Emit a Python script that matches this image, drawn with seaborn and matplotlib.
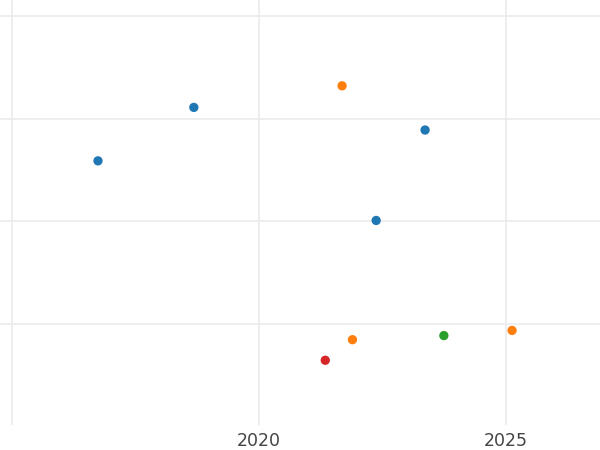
import numpy as np
import pandas as pd
import matplotlib
matplotlib.use("Agg")
import matplotlib.pyplot as plt
import seaborn as sns

# values (y has no labels, so units are arbitrary)
years = [2016.74, 2018.68, 2021.68, 2023.36, 2022.37, 2021.34, 2021.89, 2023.74, 2025.12]
values = [25.9, 31.1, 33.2, 28.9, 20.1, 6.5, 8.5, 8.9, 9.4]
groups = ["A", "A", "B", "A", "A", "D", "B", "C", "B"]
group_order = ["A", "B", "C", "D"]
group_colors = ["#1f77b4", "#ff7f0e", "#2ca02c", "#d62728"]
x_ticks = [2015, 2020, 2025]
y_ticks = [10, 20, 30, 40]

df = pd.DataFrame({"year": years, "value": values, "group": groups})

sns.set_style("white")
fig = plt.figure(figsize=(6, 4.5), dpi=100)
ax = fig.add_axes([0, 25 / 450, 1, 425 / 450])

sns.scatterplot(data=df, x="year", y="value", hue="group", hue_order=group_order,
                palette=group_colors, s=45, linewidth=0, legend=False, ax=ax, zorder=3)

ax.set_xlim(2014.757, 2026.9)
ax.set_ylim(0.2, 41.55)
ax.set_xticks(x_ticks)
ax.set_xticklabels(["", "2020", "2025"])
ax.set_yticks(y_ticks)
ax.set_yticklabels([])
ax.grid(True, color="#ebebeb", linewidth=1.2)
ax.tick_params(length=0, labelsize=12.5, labelcolor="#444444", pad=5)
ax.set_xlabel("")
ax.set_ylabel("")
sns.despine(ax=ax, left=True, bottom=True)

fig.savefig("out.png", dpi=100)
